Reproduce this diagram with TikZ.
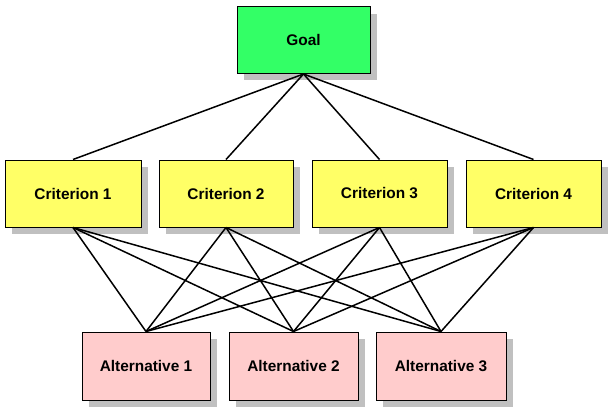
\documentclass[tikz,border=0pt]{standalone}
\usepackage{fontspec}
\setmainfont{Liberation Sans}
\begin{document}
\begin{tikzpicture}[x=1pt,y=-1pt,
  box/.style={draw=black,line width=1pt,minimum width=#1,minimum height=67pt,inner sep=0pt,
    font=\fontsize{15.4}{18}\selectfont\bfseries},
  link/.style={draw=black,line width=1.5pt}]
\definecolor{goalgreen}{HTML}{33FF66}
\definecolor{crityellow}{HTML}{FFFF66}
\definecolor{altpink}{HTML}{FFCCCC}
\definecolor{shadowgray}{HTML}{C0C0C0}
\useasboundingbox[fill=white] (0,0) rectangle (615,412);
% shadows
\fill[shadowgray] (244,14) rectangle (377,80);
\fill[shadowgray] (12,167) rectangle (148,234);
\fill[shadowgray] (166,167) rectangle (300,234);
\fill[shadowgray] (319,167) rectangle (454,234);
\fill[shadowgray] (473,167) rectangle (608,234);
\fill[shadowgray] (89,339) rectangle (217,407);
\fill[shadowgray] (236,339) rectangle (365,407);
\fill[shadowgray] (383,339) rectangle (513,407);
% nodes
\node[box=133pt,fill=goalgreen] (g) at (303.5,40) {Goal};
\node[box=136pt,fill=crityellow] (c1) at (73,193.5) {Criterion 1};
\node[box=134pt,fill=crityellow] (c2) at (226,193.5) {Criterion 2};
\node[box=135pt,fill=crityellow] (c3) at (379.5,193.5) {Criterion 3};
\node[box=135pt,fill=crityellow] (c4) at (533.5,193.5) {Criterion 4};
\node[box=128pt,minimum height=68pt,fill=altpink] (a1) at (146,366) {Alternative 1};
\node[box=129pt,minimum height=68pt,fill=altpink] (a2) at (293.5,366) {Alternative 2};
\node[box=130pt,minimum height=68pt,fill=altpink] (a3) at (441,366) {Alternative 3};
% links
\foreach \c in {c1,c2,c3,c4}{
  \draw[link] (g.south) -- (\c.north);
  \foreach \a in {a1,a2,a3}{
    \draw[link] (\c.south) -- (\a.north);
  }
}
\end{tikzpicture}
\end{document}
